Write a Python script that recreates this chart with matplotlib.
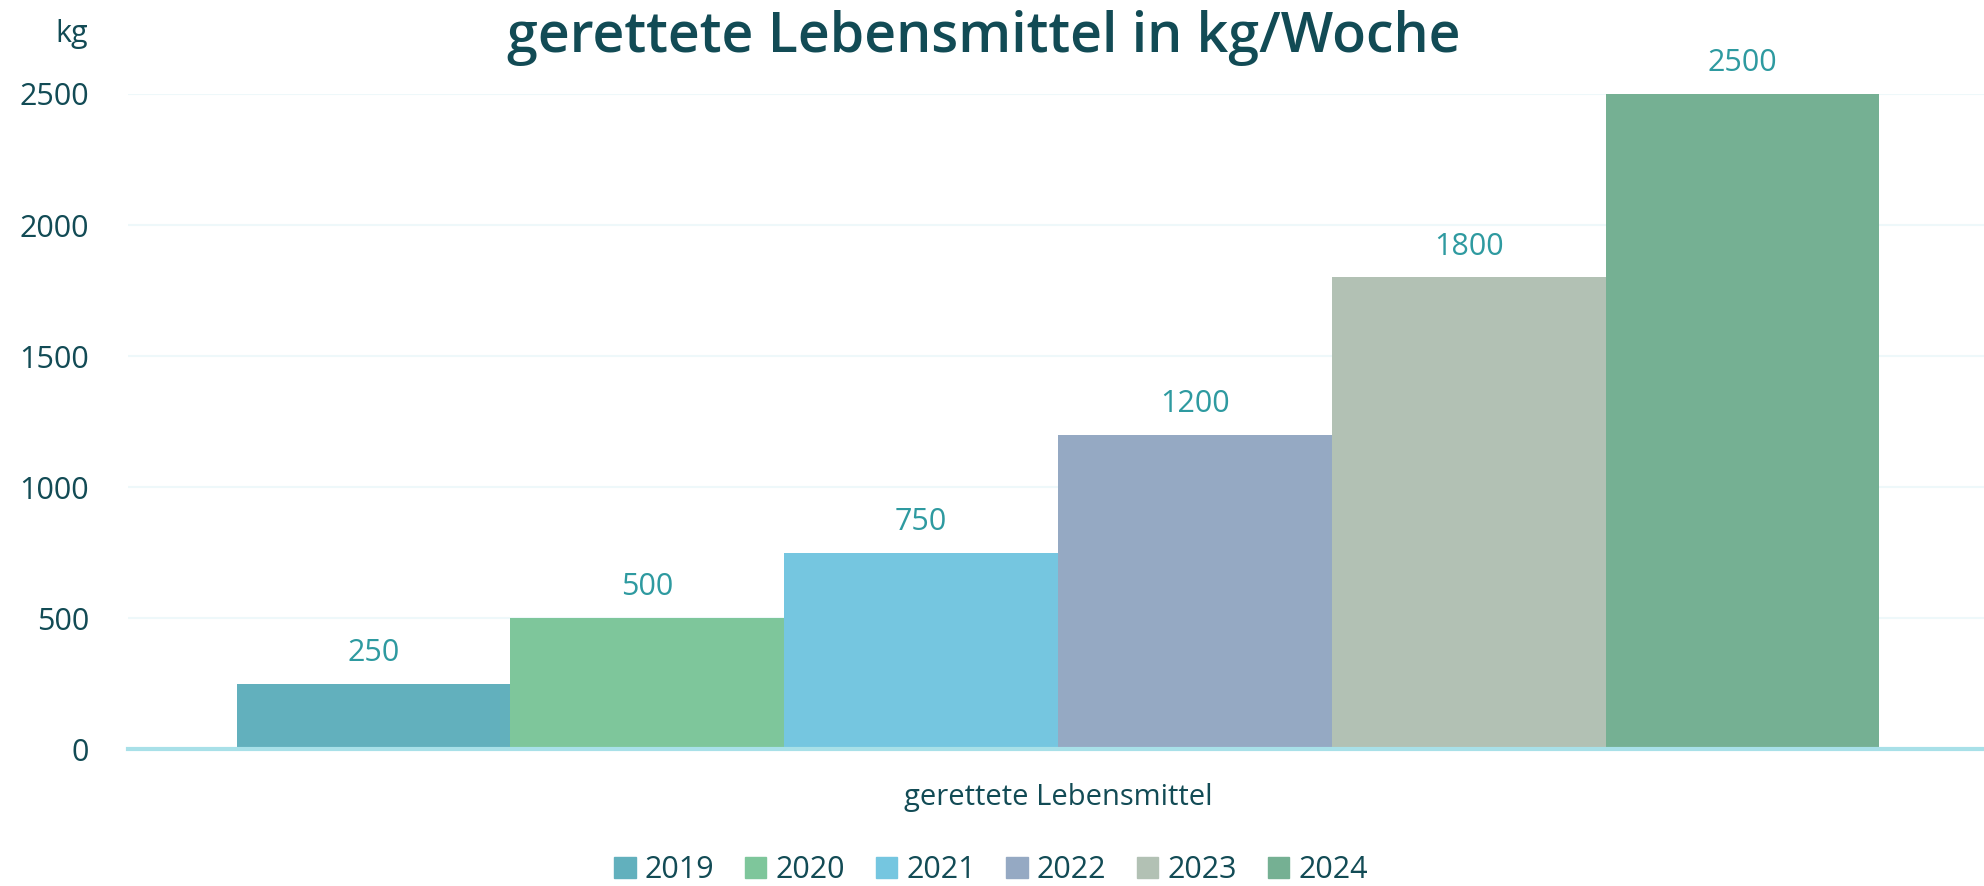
import matplotlib
matplotlib.use("Agg")
from matplotlib import pyplot as plt
from matplotlib.patches import Patch

years = ["2019", "2020", "2021", "2022", "2023", "2024"]
werte = [250, 500, 750, 1200, 1800, 2500]
farben = ["#62b0bd", "#7ec69b", "#75c6e0", "#95a9c3", "#b2c1b4", "#75b093"]
yticks = [0, 500, 1000, 1500, 2000, 2500]
kategorie = "gerettete Lebensmittel"

dunkel = "#124b55"
label_farbe = "#2e9aa0"
plt.rcParams['font.family'] = ['Open Sans', 'DejaVu Sans']

fig = plt.figure(figsize=(19.84, 8.86), dpi=100)
ax = fig.add_axes([0.0645, 0.1546, 0.9355, 1 - 94 / 886 - 0.1546])

n = len(werte)
xs = [i - (n - 1) / 2 for i in range(n)]
bars = ax.bar(xs, werte, width=1.0, color=farben, zorder=2)
for x, v in zip(xs, werte):
    ax.text(x, v + 60, str(v), ha="center", va="bottom", fontsize=22,
            color=label_farbe, clip_on=False)

ax.set_xlim(-3.397, 3.382)
ax.set_ylim(0, 2500)
ax.set_yticks(yticks)
ax.set_yticklabels([str(t) for t in yticks], fontsize=22, color=dunkel)
ax.set_xticks([])
ax.tick_params(axis="y", length=0, pad=28)
ax.grid(axis="y", color="#eef8fa", linewidth=1.5, zorder=0)
for s in ["top", "right", "left"]:
    ax.spines[s].set_visible(False)
ax.spines["bottom"].set_color("#a8e0e8")
ax.spines["bottom"].set_linewidth(3)
ax.spines["bottom"].set_zorder(3)

fig.text(0.496, 1 - 38 / 886, "gerettete Lebensmittel in kg/Woche", ha="center",
         va="center", fontsize=40, fontweight="semibold", color=dunkel)
fig.text(72 / 1984, 1 - 34 / 886, "kg", ha="center", va="center", fontsize=22,
         color=dunkel)
fig.text(1058 / 1984, 1 - 798 / 886, kategorie, ha="center", va="center",
         fontsize=21, color=dunkel)

handles = [Patch(color=c, label=y) for c, y in zip(farben, years)]
fig.legend(handles=handles, loc="center", bbox_to_anchor=(991 / 1984, 1 - 870 / 886),
           ncol=n, frameon=False, fontsize=22, labelcolor=dunkel,
           handlelength=0.7, handleheight=0.7, handletextpad=0.3, columnspacing=1.0)

fig.savefig("out.png", dpi=100)
